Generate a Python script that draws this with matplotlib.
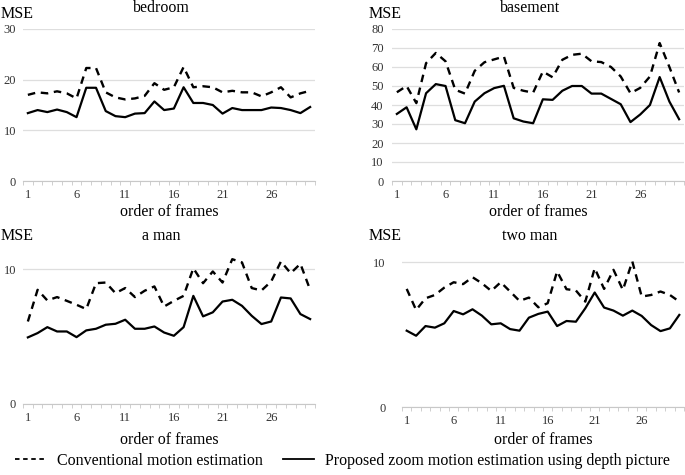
import matplotlib
matplotlib.use('Agg')
import matplotlib.pyplot as plt
from matplotlib.lines import Line2D
import numpy as np

plt.rcParams['font.family'] = ['Liberation Serif', 'DejaVu Serif']

frames = list(range(1, 31))
xtick_labels = [1, 6, 11, 16, 21, 26]

# bedroom
bedroom_conv = [17.0, 17.5, 17.3, 17.7, 17.3, 16.3, 22.3, 22.3, 17.5, 16.5,
                16.1, 16.3, 16.8, 19.3, 18.0, 18.5, 22.5, 18.5, 18.7, 18.5,
                17.5, 17.8, 17.5, 17.5, 16.7, 17.5, 18.5, 16.5, 17.3, 17.8]
bedroom_prop = [13.4, 14.0, 13.6, 14.1, 13.6, 12.6, 18.4, 18.4, 13.8, 12.8,
                12.6, 13.3, 13.4, 15.7, 14.0, 14.3, 18.5, 15.4, 15.4, 15.0,
                13.3, 14.4, 14.0, 14.0, 14.0, 14.5, 14.4, 14.0, 13.4, 14.6]

# basement
basement_conv = [46.7, 50.0, 41.0, 62.0, 67.4, 63.0, 48.0, 46.0, 58.0, 62.5,
                 64.0, 65.5, 49.0, 47.5, 46.5, 57.6, 54.6, 63.8, 66.4, 67.0,
                 63.0, 62.6, 60.0, 55.0, 46.2, 49.0, 55.0, 72.6, 60.0, 46.6]
basement_prop = [35.3, 38.8, 27.2, 46.2, 51.0, 50.0, 32.0, 30.4, 41.8, 46.2,
                 48.9, 50.1, 33.0, 31.3, 30.4, 43.0, 42.7, 47.5, 50.0, 50.0,
                 46.0, 46.0, 43.2, 40.4, 31.0, 35.0, 40.0, 54.7, 41.8, 32.5]

# a man
aman_conv = [6.12, 8.47, 7.68, 7.93, 7.65, 7.36, 7.04, 8.96, 9.01, 8.22,
             8.60, 7.93, 8.40, 8.72, 7.23, 7.65, 8.02, 10.07, 8.96, 9.83,
             9.01, 10.74, 10.50, 8.60, 8.42, 9.09, 10.57, 9.70, 10.40, 8.47]
aman_prop = [4.94, 5.26, 5.70, 5.38, 5.38, 4.96, 5.46, 5.58, 5.88, 5.95,
             6.25, 5.58, 5.58, 5.75, 5.30, 5.06, 5.70, 8.02, 6.50, 6.80,
             7.60, 7.73, 7.28, 6.54, 5.93, 6.12, 7.90, 7.83, 6.67, 6.30]

# two man
twoman_conv = [8.17, 6.71, 7.52, 7.75, 8.26, 8.63, 8.50, 8.98, 8.56, 8.03,
               8.63, 7.99, 7.34, 7.57, 6.90, 7.18, 9.38, 8.15, 8.06, 7.29,
               9.60, 8.17, 9.49, 8.10, 10.07, 7.64, 7.75, 7.99, 7.75, 7.29]
twoman_prop = [5.28, 4.93, 5.60, 5.49, 5.79, 6.64, 6.41, 6.76, 6.32, 5.72,
               5.79, 5.39, 5.28, 6.18, 6.44, 6.60, 5.60, 5.95, 5.90, 6.83,
               7.92, 6.88, 6.67, 6.32, 6.67, 6.30, 5.67, 5.25, 5.44, 6.37]

W, H = 685, 475
DASH = (0, (3.2, 2.4))


def px_axes(fig, left, right, top, bottom):
    return fig.add_axes([left / W, 1 - bottom / H, (right - left) / W, (bottom - top) / H])


def panel(fig, box, conv, prop, ylim, yticks, title, title_x, title_y, mse_x, mse_y, xlab_y, ypad):
    ax = px_axes(fig, *box)
    ax.plot(frames, conv, color='black', lw=1.7, linestyle=DASH)
    ax.plot(frames, prop, color='black', lw=1.6)
    ax.set_xlim(0.5, 30.5)
    ax.set_ylim(*ylim)
    ax.set_yticks(yticks)
    ax.set_xticks(xtick_labels)
    ax.set_xticks(np.arange(0.5, 31, 1), minor=True)
    ax.grid(axis='y', color='#dedede', lw=0.9)
    ax.set_axisbelow(True)
    for s in ['top', 'right', 'left']:
        ax.spines[s].set_visible(False)
    ax.spines['bottom'].set_color('#c8c8c8')
    ax.tick_params(axis='y', length=0, pad=ypad, labelsize=9, colors='#333333')
    ax.tick_params(axis='x', which='major', length=0, pad=6, labelsize=9, colors='#333333')
    ax.tick_params(axis='x', which='minor', length=3, color='#c8c8c8', direction='out')
    fig.text(title_x / W, 1 - title_y / H, title, ha='center', va='center', fontsize=11.5)
    fig.text(mse_x / W, 1 - mse_y / H, 'MSE', ha='left', va='center', fontsize=11.5)
    cx = (box[0] + box[1]) / 2
    fig.text(cx / W, 1 - xlab_y / H, 'order of frames', ha='center', va='center', fontsize=11.5)
    return ax


fig = plt.figure(figsize=(W / 100, H / 100), dpi=100)

panel(fig, (23, 315, 29, 181), bedroom_conv, bedroom_prop, (0, 30), [0, 10, 20, 30],
      'bedroom', 161, 8, 1, 14, 212, 5)
panel(fig, (392, 684, 29, 181), basement_conv, basement_prop, (0, 80), range(0, 81, 10),
      'basement', 530, 8, 369, 14, 212, 6)
panel(fig, (23, 315, 253, 404), aman_conv, aman_prop, (0, 11.2), [0, 10],
      'a man', 161, 236, 1, 236, 440, 5)
panel(fig, (402, 684, 248, 407), twoman_conv, twoman_prop, (0, 11.0), [0, 10],
      'two man', 530, 236, 369, 236, 440, 12)

handles = [Line2D([], [], color='black', lw=1.3, linestyle=(0, (2.5, 2.0))),
           Line2D([], [], color='black', lw=1.3)]
fig.legend(handles, ['Conventional motion estimation',
                     'Proposed zoom motion estimation using depth picture'],
           loc='center', bbox_to_anchor=(0.5, 1 - 461 / H), ncol=2, frameon=False,
           fontsize=11.5, handlelength=1.9, columnspacing=1.3, handletextpad=0.7)

fig.savefig('out.png', dpi=100)
